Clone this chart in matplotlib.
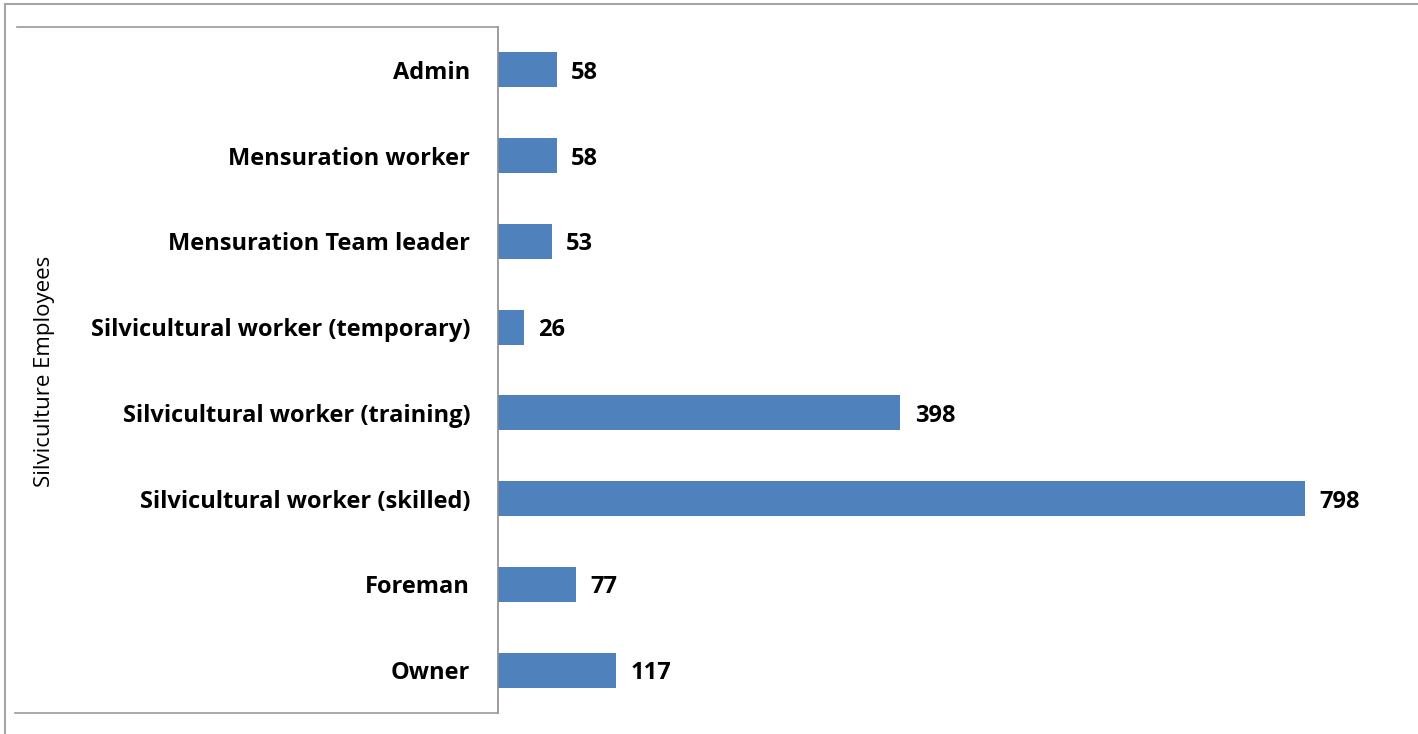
import matplotlib
matplotlib.use("Agg")
import matplotlib.pyplot as plt
from matplotlib.lines import Line2D

plt.rcParams["font.family"] = ["Open Sans", "DejaVu Sans"]

# ── data (top to bottom) ──
CATEGORIES = [
    "Admin",
    "Mensuration worker",
    "Mensuration Team leader",
    "Silvicultural worker (temporary)",
    "Silvicultural worker (training)",
    "Silvicultural worker (skilled)",
    "Foreman",
    "Owner",
]
COUNTS = [58, 58, 53, 26, 398, 798, 77, 117]

W, H = 1418, 734
fig = plt.figure(figsize=(W / 100, H / 100), dpi=100)
fig.patch.set_facecolor("white")

left, right = 498 / W, 1408 / W
bottom, top = (H - 713) / H, (H - 27) / H
ax = fig.add_axes([left, bottom, right - left, top - bottom])

ypos = list(range(len(CATEGORIES)))
ax.barh(ypos, COUNTS, height=0.41, color="#4F81BD", zorder=2)
for y, v in zip(ypos, COUNTS):
    ax.text(v + 14, y, str(v), va="center_baseline", ha="left",
            fontsize=17, fontweight="bold", color="black")

ax.set_xlim(0, 900)
ax.set_ylim(len(CATEGORIES) - 0.5, -0.5)
ax.set_yticks(ypos)
ax.set_yticklabels(CATEGORIES, fontsize=17, fontweight="bold")
ax.tick_params(axis="y", length=0, pad=20)
ax.set_xticks([])
for name in ["top", "right", "bottom"]:
    ax.spines[name].set_visible(False)
ax.spines["left"].set_color("#8c8c8c")
ax.spines["left"].set_linewidth(1.2)

# y axis title
fig.text(45 / W, (H - 371) / H, "Silviculture Employees", rotation=90,
         ha="center", va="center", fontsize=16)

# frame lines around the label area and the outer border
gray = "#9a9a9a"
fig.add_artist(Line2D([17 / W, left], [top, top], color=gray, lw=1.2))
fig.add_artist(Line2D([15 / W, left], [bottom, bottom], color=gray, lw=1.2))
fig.add_artist(Line2D([5 / W, 1.0], [(H - 4) / H, (H - 4) / H], color="#a6a6a6", lw=1.5))
fig.add_artist(Line2D([5 / W, 5 / W], [0, (H - 4) / H], color="#a6a6a6", lw=1.5))

fig.savefig("out.png", dpi=100, facecolor=fig.get_facecolor())
